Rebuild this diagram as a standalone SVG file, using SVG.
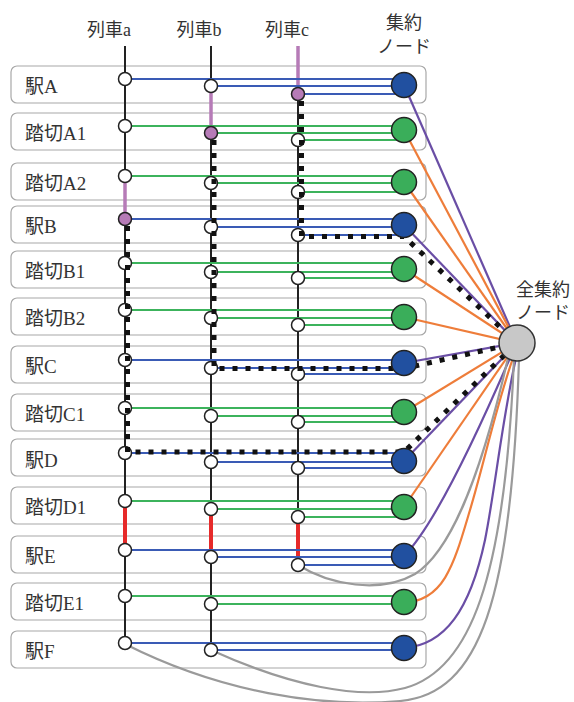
<svg xmlns="http://www.w3.org/2000/svg" width="574" height="702" viewBox="0 0 574 702">
<style>
text{font-family:"Liberation Serif","Noto Sans CJK JP",serif;fill:#333}
.lbl{font-size:19px}
.hdr{font-size:18px;text-anchor:middle}
.row{fill:#fff;stroke:#a8a8a8;stroke-width:1.2}
.tr{stroke:#222;stroke-width:2;fill:none}
.pk{stroke:#b67bb7;stroke-width:3.5;fill:none}
.rd{stroke:#e62a2a;stroke-width:4;fill:none}
.bl{stroke:#3a5bb5;stroke-width:2.2;fill:none}
.gr{stroke:#3cb35c;stroke-width:2.2;fill:none}
.pu{stroke:#6a4ea5;stroke-width:2.2;fill:none}
.or{stroke:#ee7d3a;stroke-width:2.2;fill:none}
.gy{stroke:#9a9a9a;stroke-width:2.2;fill:none}
.dot{stroke:#111;stroke-width:5;stroke-dasharray:5 8;fill:none}
.tn{fill:#fff;stroke:#222;stroke-width:1.5}
.tp{fill:#b67bb7;stroke:#222;stroke-width:1.5}
.ab{fill:#2150a0;stroke:#222;stroke-width:1.5}
.ag{fill:#3aae5a;stroke:#222;stroke-width:1.5}
.all{fill:#c8c8c8;stroke:#333;stroke-width:1.5}
</style>

<g id="headers">
<text class="hdr" x="109" y="36">列車a</text>
<text class="hdr" x="199" y="36">列車b</text>
<text class="hdr" x="287" y="36">列車c</text>
<text class="hdr" x="404" y="29">集約</text>
<text class="hdr" x="404" y="53">ノード</text>
</g>

<g id="rows">
<g id="row-ekiA"><rect class="row" x="11" y="66" width="415" height="37" rx="6"/><text class="lbl" x="25" y="93">駅A</text></g>
<g id="row-fumikiriA1"><rect class="row" x="11" y="113" width="415" height="37" rx="6"/><text class="lbl" x="25" y="140">踏切A1</text></g>
<g id="row-fumikiriA2"><rect class="row" x="11" y="163" width="415" height="37" rx="6"/><text class="lbl" x="25" y="190">踏切A2</text></g>
<g id="row-ekiB"><rect class="row" x="11" y="206" width="415" height="37" rx="6"/><text class="lbl" x="25" y="233">駅B</text></g>
<g id="row-fumikiriB1"><rect class="row" x="11" y="251" width="415" height="37" rx="6"/><text class="lbl" x="25" y="278">踏切B1</text></g>
<g id="row-fumikiriB2"><rect class="row" x="11" y="298" width="415" height="37" rx="6"/><text class="lbl" x="25" y="325">踏切B2</text></g>
<g id="row-ekiC"><rect class="row" x="11" y="346" width="415" height="37" rx="6"/><text class="lbl" x="25" y="373">駅C</text></g>
<g id="row-fumikiriC1"><rect class="row" x="11" y="394" width="415" height="37" rx="6"/><text class="lbl" x="25" y="421">踏切C1</text></g>
<g id="row-ekiD"><rect class="row" x="11" y="439" width="415" height="37" rx="6"/><text class="lbl" x="25" y="467">駅D</text></g>
<g id="row-fumikiriD1"><rect class="row" x="11" y="487" width="415" height="37" rx="6"/><text class="lbl" x="25" y="514">踏切D1</text></g>
<g id="row-ekiE"><rect class="row" x="11" y="536" width="415" height="37" rx="6"/><text class="lbl" x="25" y="563">駅E</text></g>
<g id="row-fumikiriE1"><rect class="row" x="11" y="583" width="415" height="37" rx="6"/><text class="lbl" x="25" y="610">踏切E1</text></g>
<g id="row-ekiF"><rect class="row" x="11" y="631" width="415" height="37" rx="6"/><text class="lbl" x="25" y="658">駅F</text></g>
</g>

<g id="connectors">
<path class="tr" d="M125 46V176M125 219V501M125 550V643"/>
<path class="pk" d="M125 176V219"/>
<path class="rd" d="M125 501V550"/>
<path class="tr" d="M211 46V86M211 133V509M211 557V650"/>
<path class="pk" d="M211 86V133"/>
<path class="rd" d="M211 509V557"/>
<path class="pk" d="M298 46V94"/>
<path class="tr" d="M298 94V517"/>
<path class="rd" d="M298 517V565"/>

<path class="bl" d="M125 79H404M211 86H404M298 94H404"/>
<path class="gr" d="M125 126H404M211 133H404M298 140H404"/>
<path class="gr" d="M125 176H404M211 183H404M298 192H404"/>
<path class="bl" d="M125 219H404M211 227H404M298 235H404"/>
<path class="gr" d="M125 263H404M211 272H404M298 278H404"/>
<path class="gr" d="M125 310H404M211 318H404M298 325H404"/>
<path class="bl" d="M125 360H404M211 368H404M298 374H404"/>
<path class="gr" d="M125 408H404M211 416H404M298 422H404"/>
<path class="bl" d="M125 453H404M211 462H404M298 468H404"/>
<path class="gr" d="M125 501H404M211 509H404M298 517H404"/>
<path class="bl" d="M125 550H404M211 557H404M298 565H404"/>
<path class="gr" d="M125 596H404M211 604H404"/>
<path class="bl" d="M125 643H404M211 650H404"/>

<path class="pu" d="M404 85L517 343"/>
<path class="or" d="M404 130L517 343"/>
<path class="or" d="M404 182L517 343"/>
<path class="pu" d="M404 225L517 343"/>
<path class="or" d="M404 269L517 343"/>
<path class="or" d="M404 317L517 343"/>
<path class="pu" d="M404 363L517 343"/>
<path class="or" d="M404 412L517 343"/>
<path class="pu" d="M404 461L517 343"/>
<path class="or" d="M404 507L517 343"/>
<path class="pu" d="M404 556Q440 520 510 358"/>
<path class="or" d="M404 602C445 602 455 560 470 510C485 460 495 410 513 358"/>
<path class="pu" d="M404 648C445 645 470 610 485 540C495 490 502 420 516 358"/>
<path class="gy" d="M298 565C330 585 380 594 415 574C450 552 480 480 508 358"/>
<path class="gy" d="M211 650C290 686 360 700 405 688C470 670 505 580 514 358"/>
<path class="gy" d="M125 644C220 692 320 708 400 701C480 694 512 600 519 358"/>
</g>

<g id="train-nodes">
<circle class="tn" cx="125" cy="79" r="6.5"/><circle class="tn" cx="211" cy="86" r="6.5"/><circle class="tp" cx="298" cy="94" r="6.5"/>
<circle class="tn" cx="125" cy="126" r="6.5"/><circle class="tp" cx="211" cy="133" r="6.5"/><circle class="tn" cx="298" cy="140" r="6.5"/>
<circle class="tn" cx="125" cy="176" r="6.5"/><circle class="tn" cx="211" cy="183" r="6.5"/><circle class="tn" cx="298" cy="192" r="6.5"/>
<circle class="tp" cx="125" cy="219" r="6.5"/><circle class="tn" cx="211" cy="227" r="6.5"/><circle class="tn" cx="298" cy="235" r="6.5"/>
<circle class="tn" cx="125" cy="263" r="6.5"/><circle class="tn" cx="211" cy="272" r="6.5"/><circle class="tn" cx="298" cy="278" r="6.5"/>
<circle class="tn" cx="125" cy="310" r="6.5"/><circle class="tn" cx="211" cy="318" r="6.5"/><circle class="tn" cx="298" cy="325" r="6.5"/>
<circle class="tn" cx="125" cy="360" r="6.5"/><circle class="tn" cx="211" cy="368" r="6.5"/><circle class="tn" cx="298" cy="374" r="6.5"/>
<circle class="tn" cx="125" cy="408" r="6.5"/><circle class="tn" cx="211" cy="416" r="6.5"/><circle class="tn" cx="298" cy="422" r="6.5"/>
<circle class="tn" cx="125" cy="453" r="6.5"/><circle class="tn" cx="211" cy="462" r="6.5"/><circle class="tn" cx="298" cy="468" r="6.5"/>
<circle class="tn" cx="125" cy="501" r="6.5"/><circle class="tn" cx="211" cy="509" r="6.5"/><circle class="tn" cx="298" cy="517" r="6.5"/>
<circle class="tn" cx="125" cy="550" r="6.5"/><circle class="tn" cx="211" cy="557" r="6.5"/><circle class="tn" cx="298" cy="565" r="6.5"/>
<circle class="tn" cx="125" cy="596" r="6.5"/><circle class="tn" cx="211" cy="604" r="6.5"/>
<circle class="tn" cx="125" cy="643" r="6.5"/><circle class="tn" cx="211" cy="650" r="6.5"/>
</g>

<g id="routes">
<path class="dot" d="M301.5 101V236.5H404L517 343"/>
<path class="dot" d="M214 140V368.5H404L517 343"/>
<path class="dot" d="M127.5 226V452H404L517 343"/>
</g>

<g id="agg-nodes">
<circle id="agg-ekiA" class="ab" cx="404" cy="85" r="12.5"/>
<circle id="agg-fumikiriA1" class="ag" cx="404" cy="130" r="12.5"/>
<circle id="agg-fumikiriA2" class="ag" cx="404" cy="182" r="12.5"/>
<circle id="agg-ekiB" class="ab" cx="404" cy="225" r="12.5"/>
<circle id="agg-fumikiriB1" class="ag" cx="404" cy="269" r="12.5"/>
<circle id="agg-fumikiriB2" class="ag" cx="404" cy="317" r="12.5"/>
<circle id="agg-ekiC" class="ab" cx="404" cy="363" r="12.5"/>
<circle id="agg-fumikiriC1" class="ag" cx="404" cy="412" r="12.5"/>
<circle id="agg-ekiD" class="ab" cx="404" cy="461" r="12.5"/>
<circle id="agg-fumikiriD1" class="ag" cx="404" cy="507" r="12.5"/>
<circle id="agg-ekiE" class="ab" cx="404" cy="556" r="12.5"/>
<circle id="agg-fumikiriE1" class="ag" cx="404" cy="602" r="12.5"/>
<circle id="agg-ekiF" class="ab" cx="404" cy="648" r="12.5"/>
</g>

<g id="all-node">
<circle class="all" cx="517" cy="343" r="18"/>
<text class="hdr" x="543" y="296">全集約</text>
<text class="hdr" x="543" y="319">ノード</text>
</g>
</svg>
